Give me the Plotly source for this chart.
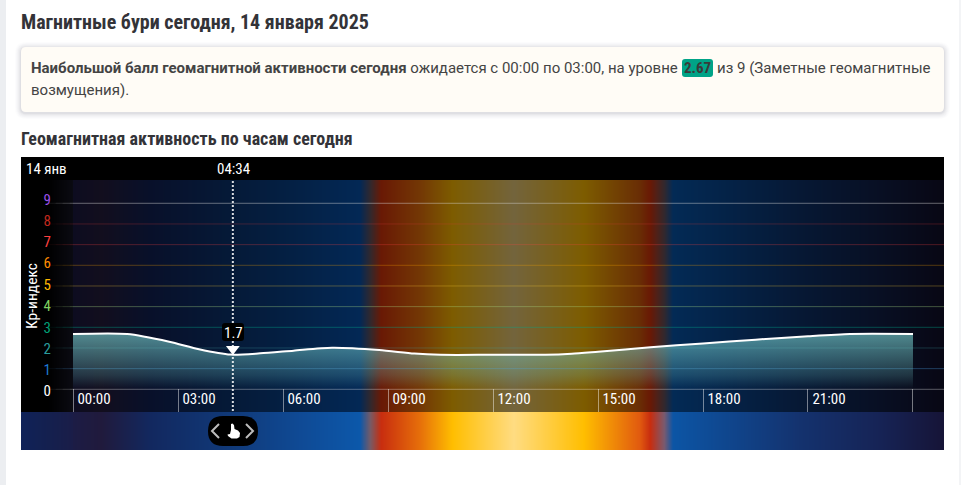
import numpy as np
import plotly.graph_objects as go

W, H = 961, 485
COND = "Roboto Condensed, Roboto"
BODY = "Roboto"

# --- data ---
hours = [0, 1.55, 2.75, 3.6, 4.5, 5.35, 6.3, 7.4, 8.75, 9.75, 10.5, 12, 13.5, 14.25, 15, 16.5, 18, 19.5, 21, 22.2, 24]
kp = [2.67, 2.67, 2.3, 1.94, 1.68, 1.74, 1.87, 2.01, 1.9, 1.73, 1.67, 1.67, 1.67, 1.72, 1.82, 2.03, 2.22, 2.4, 2.57, 2.68, 2.68]
kp_ticks = list(range(10))
kp_tick_pos = [-0.08, 0.95, 1.98, 3.0, 4.03, 5.08, 6.1, 7.15, 8.15, 9.18]
kp_tick_colors = ["#ffffff", "#1e78d2", "#2a9d9d", "#00a078", "#7fd060", "#ffb800", "#ff8c00", "#ff4040", "#c0281e", "#9a50e8"]
grid_colors = ["rgba(255,255,255,.33)", "rgba(70,150,210,.38)", "rgba(70,170,170,.28)", "rgba(0,170,140,.40)",
               "rgba(170,220,130,.36)", "rgba(255,210,60,.30)", "rgba(255,165,0,.30)", "rgba(255,70,70,.28)",
               "rgba(220,60,60,.26)", "rgba(215,215,215,.45)"]
hour_ticks = [0, 3, 6, 9, 12, 15, 18, 21, 24]
hour_labels = ["00:00", "03:00", "06:00", "09:00", "12:00", "15:00", "18:00", "21:00", ""]
cursor_hour = 4 + 34 / 60
cursor_kp = 1.67

# sky gradient: hour of day, dim colour (chart band), bright colour (strip)
sky_hours = [-1.486, -0.72, -0.01, 0, 0.8, 2.2, 4.6, 6.5, 8.2, 8.5, 8.8, 9.9, 10.85, 12.6, 14.6, 16.2, 16.5, 16.9, 17.15, 20.8, 23.1, 24.886]
sky_dim = ["#000000", "#000000", "#0a0a12", "#0d0c20", "#120e1e", "#08102a", "#051a38", "#042146", "#032855", "#32282d", "#691905",
           "#733705", "#7d5c00", "#73643c", "#7d5c00", "#692d05", "#691905", "#32282d", "#032a55", "#061834", "#080f23", "#080714"]
sky_bright = ["#0f2258", "#14204f", "#1a1d48", "#1c1c45", "#201a3c", "#12285f", "#103a7a", "#0f4a95", "#0c58aa", "#785a64", "#c82d0f",
              "#e66e0a", "#ffbe00", "#ffdc82", "#ffbe00", "#e15a0f", "#c82d0f", "#7a5a6e", "#0c55a5", "#14326e", "#162355", "#161437"]


def X(p):
    return p / W


def Y(p):
    return 1 - p / H


def rrect(x0, y0, x1, y1, r):
    return (f"M{X(x0 + r)},{Y(y0)} L{X(x1 - r)},{Y(y0)} Q{X(x1)},{Y(y0)} {X(x1)},{Y(y0 + r)} "
            f"L{X(x1)},{Y(y1 - r)} Q{X(x1)},{Y(y1)} {X(x1 - r)},{Y(y1)} L{X(x0 + r)},{Y(y1)} "
            f"Q{X(x0)},{Y(y1)} {X(x0)},{Y(y1 - r)} L{X(x0)},{Y(y0 + r)} Q{X(x0)},{Y(y0)} {X(x0 + r)},{Y(y0)} Z")


def poly(pts):
    return "M" + " L".join(f"{X(a)},{Y(b)}" for a, b in pts) + " Z"


def pline(pts):
    return "M" + " L".join(f"{X(a)},{Y(b)}" for a, b in pts)


x_range = [-1.486, 24.886]
y_range = [-1.098, 10.127]
grid = np.linspace(x_range[0], x_range[1], 923)
span = x_range[1] - x_range[0]
pos = [(h - x_range[0]) / span for h in sky_hours]
pos[0], pos[-1] = 0, 1

fig = go.Figure()
fig.add_trace(go.Heatmap(x=grid, y=[y_range[0], y_range[1]], z=[grid, grid], zmin=x_range[0], zmax=x_range[1],
                         colorscale=[[p, c] for p, c in zip(pos, sky_dim)], showscale=False, hoverinfo="skip"))
fig.add_trace(go.Heatmap(x=grid, y=[0, 1], z=[grid, grid], zmin=x_range[0], zmax=x_range[1], xaxis="x2", yaxis="y2",
                         colorscale=[[p, c] for p, c in zip(pos, sky_bright)], showscale=False, hoverinfo="skip"))

# horizontal level lines, fading out over the left margin
for lv, col in zip(kp_ticks, grid_colors):
    fig.add_trace(go.Scatter(x=[0, x_range[1]], y=[lv, lv], mode="lines", line=dict(color=col, width=1), hoverinfo="skip"))
    for k, (a, b) in enumerate([(-0.1, 0), (-0.3, -0.1), (-0.5, -0.3), (-0.7, -0.5)]):
        fig.add_trace(go.Scatter(x=[a, b], y=[lv, lv], mode="lines", opacity=0.8 - 0.2 * k,
                                 line=dict(color=col, width=1), hoverinfo="skip"))

# activity area and curve
fig.add_trace(go.Scatter(x=hours, y=kp, mode="lines", line=dict(color="#ffffff", width=2, shape="spline", smoothing=0.7),
                         fill="tozeroy",
                         fillgradient=dict(type="vertical", start=0, stop=2.75,
                                           colorscale=[[0, "rgba(115,200,200,0)"], [0.25, "rgba(115,200,200,.22)"], [1, "rgba(115,200,200,.68)"]]),
                         hoverinfo="skip"))

# cursor
fig.add_trace(go.Scatter(x=[cursor_hour, cursor_hour], y=[y_range[0] - 0.15, y_range[1]], mode="lines", cliponaxis=False,
                         line=dict(color="rgba(255,255,255,.85)", width=2, dash="2px,2px"), hoverinfo="skip"))
fig.add_trace(go.Scatter(x=[cursor_hour], y=[cursor_kp + 0.28], mode="markers",
                         marker=dict(symbol="triangle-down", size=12, color="#ffffff"), hoverinfo="skip"))

shapes = [
    dict(type="rect", xref="paper", yref="paper", x0=0, x1=X(6), y0=0, y1=1, fillcolor="#eceef1", line_width=0, layer="below"),
    dict(type="rect", xref="paper", yref="paper", x0=X(959), x1=1, y0=0, y1=1, fillcolor="#f3f4f6", line_width=0, layer="below"),
    dict(type="rect", xref="paper", yref="paper", x0=X(21), x1=X(944), y0=Y(180), y1=Y(157), fillcolor="#000000", line_width=0, layer="below"),
]
for grow, a in [(6, .012), (5, .015), (4, .02), (3, .025), (2, .03), (1, .04)]:
    shapes.append(dict(type="path", xref="paper", yref="paper", path=rrect(21 - grow, 47 - grow + 1, 944 + grow, 112 + grow + 1, 5 + grow),
                       fillcolor=f"rgba(30,30,50,{a})", line_width=0, layer="below"))
shapes += [
    dict(type="path", xref="paper", yref="paper", path=rrect(21, 47, 944, 112, 5), fillcolor="#fffcf6", line_width=0, layer="below"),
    dict(type="path", xref="paper", yref="paper", path=rrect(682, 59, 713, 77, 3), fillcolor="#00a387", line_width=0, layer="below"),
    # cursor value badge
    dict(type="path", xref="paper", yref="paper", path=rrect(222, 323, 244, 341, 3), fillcolor="#000000", line_width=0, layer="above"),
    # drag pill
    dict(type="path", xref="paper", yref="paper", path=rrect(208, 416, 258, 446, 15), fillcolor="#000000", line_width=0, layer="above"),
    dict(type="path", xref="paper", yref="paper", path=pline([(219, 424), (212, 431), (219, 438)]), line=dict(color="#bdbdbd", width=2), layer="above"),
    dict(type="path", xref="paper", yref="paper", path=pline([(246, 424), (253, 431), (246, 438)]), line=dict(color="#bdbdbd", width=2), layer="above"),
    # hand icon
    dict(type="path", xref="paper", yref="paper",
         path=poly([(231, 424), (232.5, 423.5), (234, 425), (234.5, 429), (238, 430.5), (240, 433), (239.5, 437), (237, 438.5), (231.5, 438.5),
                    (228, 436), (227.5, 434.5), (230, 434), (231, 430)]),
         fillcolor="#ffffff", line_width=0, layer="above"),
]


def note(txt, px, py, size, color="#ffffff", font=COND, anchor="left", **kw):
    return dict(text=txt, x=X(px), y=Y(py), xref="paper", yref="paper", xanchor=anchor, yanchor="middle", showarrow=False,
                borderpad=0, borderwidth=0, font=dict(family=font, size=size, color=color), **kw)


annotations = [
    note("<b>Магнитные бури сегодня, 14 января 2025</b>", 21, 22, 20, "#333338"),
    note("<b>Наибольшой балл геомагнитной активности сегодня</b> ожидается с 00:00 по 03:00, на уровне", 31, 68, 15, "#444444", BODY),
    note("<b>2.67</b>", 697.5, 68, 15, "#3a3a3a", COND, "center"),
    note("из 9 (Заметные геомагнитные", 717, 68, 15, "#444444", BODY),
    note("возмущения).", 31, 90, 15, "#444444", BODY),
    note("<b>Геомагнитная активность по часам сегодня</b>", 21, 138, 18, "#333338"),
    note("14 янв", 26, 168.5, 15),
    note("04:34", 233, 168.5, 15, anchor="center"),
    note("1.7", 233, 332.5, 15, anchor="center"),
]

ticktext = [f'<span style="color:{c}">{v}</span>' for v, c in zip(kp_ticks, kp_tick_colors)]

fig.update_layout(
    width=W, height=H, margin=dict(l=0, r=0, t=0, b=0), autosize=False,
    paper_bgcolor="#ffffff", plot_bgcolor="#000000", showlegend=False, hovermode=False,
    shapes=shapes, annotations=annotations,
    xaxis=dict(domain=[X(21), X(944)], range=x_range, showgrid=False, zeroline=False, tickmode="array",
               tickvals=hour_ticks, ticktext=hour_labels, ticks="inside", ticklen=23, tickwidth=1,
               tickcolor="rgba(255,255,255,.45)", ticklabelshift=21, ticklabelstandoff=-24,
               tickfont=dict(family=COND, size=15, color="#ffffff"), fixedrange=True),
    yaxis=dict(domain=[Y(412), Y(180)], range=y_range, anchor="free", position=X(51), showgrid=False, zeroline=False,
               tickmode="array", tickvals=kp_tick_pos, ticktext=ticktext, ticks="", showline=False,
               tickfont=dict(family=COND, size=15, color="#ffffff"), fixedrange=True,
               title=dict(text="Кр-индекс", standoff=1, font=dict(family=COND, size=15.5, color="#ffffff"))),
    xaxis2=dict(domain=[X(21), X(944)], range=x_range, anchor="y2", visible=False, fixedrange=True),
    yaxis2=dict(domain=[Y(450), Y(412)], range=[0, 1], anchor="x2", visible=False, fixedrange=True),
)

fig.write_html("out.html", config=dict(displayModeBar=False),
               post_script="document.body.style.margin='0';document.body.style.overflow='hidden';")
